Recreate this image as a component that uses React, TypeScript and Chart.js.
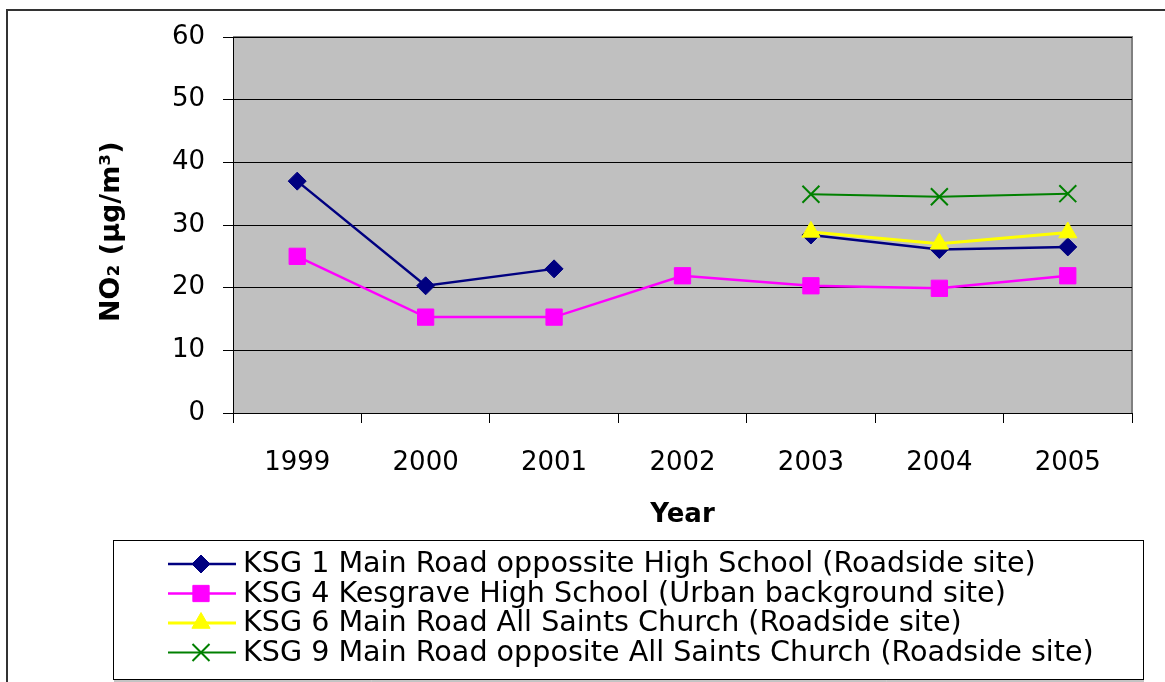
import React, { useEffect, useRef } from 'react';
import { Chart, registerables } from 'chart.js';
import { drawPoint } from 'chart.js/helpers';

Chart.register(...registerables);

const years = ['1999', '2000', '2001', '2002', '2003', '2004', '2005'];
const ksg1 = [37, 20.3, 23, null, 28.4, 26.1, 26.5];
const ksg4 = [25, 15.3, 15.3, 21.9, 20.3, 19.9, 21.9];
const ksg6 = [null, null, null, null, 28.9, 27, 28.8];
const ksg9 = [null, null, null, null, 34.9, 34.5, 35];
const seriesLabels = [
  'KSG 1 Main Road oppossite High School (Roadside site)',
  'KSG 4 Kesgrave High School (Urban background site)',
  'KSG 6 Main Road All Saints Church (Roadside site)',
  'KSG 9 Main Road opposite All Saints Church (Roadside site)',
];
const yMin = 0;
const yMax = 60;
const yStep = 10;

const FONT = "'DejaVu Sans', sans-serif";

const framePlugin = {
  id: 'frame',
  beforeDraw(chart: any) {
    const { ctx, chartArea } = chart;
    ctx.save();
    ctx.fillStyle = '#ffffff';
    ctx.fillRect(0, 0, chart.width, chart.height);
    ctx.strokeStyle = '#333333';
    ctx.lineWidth = 2;
    ctx.beginPath();
    ctx.moveTo(7, chart.height + 5);
    ctx.lineTo(7, 10);
    ctx.lineTo(chart.width + 5, 10);
    ctx.stroke();
    ctx.fillStyle = '#C0C0C0';
    ctx.fillRect(chartArea.left, chartArea.top, chartArea.right - chartArea.left, chartArea.bottom - chartArea.top);
    ctx.strokeStyle = '#808080';
    ctx.lineWidth = 2;
    ctx.beginPath();
    ctx.moveTo(chartArea.left, chartArea.top);
    ctx.lineTo(chartArea.right, chartArea.top);
    ctx.lineTo(chartArea.right, chartArea.bottom);
    ctx.stroke();
    ctx.restore();
  },
};

const legendPlugin = {
  id: 'boxLegend',
  afterDraw(chart: any) {
    const { ctx } = chart;
    ctx.save();
    ctx.strokeStyle = '#000000';
    ctx.lineWidth = 1;
    ctx.strokeRect(113.5, 540.5, 1030, 139);
    ctx.strokeStyle = '#888888';
    ctx.beginPath();
    ctx.moveTo(114, 681);
    ctx.lineTo(1144, 681);
    ctx.stroke();
    chart.data.datasets.forEach((ds: any, i: number) => {
      const y = 564 + i * 29.5;
      ctx.strokeStyle = ds.borderColor;
      ctx.lineWidth = ds.borderWidth;
      ctx.beginPath();
      ctx.moveTo(168, y);
      ctx.lineTo(236, y);
      ctx.stroke();
      ctx.fillStyle = ds.pointBackgroundColor;
      ctx.strokeStyle = ds.pointBorderColor;
      ctx.lineWidth = ds.pointBorderWidth;
      drawPoint(ctx, { pointStyle: ds.pointStyle, radius: ds.pointRadius, rotation: 0, borderWidth: ds.pointBorderWidth }, 201, y);
      ctx.fillStyle = '#000000';
      ctx.font = `28.6px ${FONT}`;
      ctx.textAlign = 'left';
      ctx.textBaseline = 'middle';
      ctx.fillText(ds.label, 243, y + 1);
    });
    ctx.restore();
  },
};

export default function App() {
  const ref = useRef<HTMLCanvasElement>(null);
  useEffect(() => {
    if (!ref.current) return;
    const chart = new Chart(ref.current, {
      type: 'line',
      data: {
        labels: years,
        datasets: [
          {
            label: seriesLabels[0], data: ksg1, order: 3,
            borderColor: '#000080', backgroundColor: '#000080', borderWidth: 2.5,
            pointStyle: 'rectRot', pointRadius: 9, pointBackgroundColor: '#000080', pointBorderColor: '#000080', pointBorderWidth: 1,
          },
          {
            label: seriesLabels[1], data: ksg4, order: 2,
            borderColor: '#FF00FF', backgroundColor: '#FF00FF', borderWidth: 2.5,
            pointStyle: 'rect', pointRadius: 11.5, pointBackgroundColor: '#FF00FF', pointBorderColor: '#FF00FF', pointBorderWidth: 1,
          },
          {
            label: seriesLabels[2], data: ksg6, order: 1,
            borderColor: '#FFFF00', backgroundColor: '#FFFF00', borderWidth: 3,
            pointStyle: 'triangle', pointRadius: 10.5, pointBackgroundColor: '#FFFF00', pointBorderColor: '#FFFF00', pointBorderWidth: 1,
          },
          {
            label: seriesLabels[3], data: ksg9, order: 0,
            borderColor: '#008000', backgroundColor: '#008000', borderWidth: 2,
            pointStyle: 'crossRot', pointRadius: 12, pointBackgroundColor: '#008000', pointBorderColor: '#008000', pointBorderWidth: 2,
          },
        ],
      },
      options: {
        responsive: false,
        animation: false,
        devicePixelRatio: 1,
        layout: { padding: { left: 0, top: 37, right: 33, bottom: 142 } },
        plugins: { legend: { display: false }, tooltip: { enabled: false } },
        elements: { line: { tension: 0 } },
        scales: {
          x: {
            offset: true,
            grid: { offset: true, drawOnChartArea: false, tickLength: 10, color: '#000000', lineWidth: 1 },
            border: { color: '#000000', width: 1 },
            ticks: { color: '#000000', font: { family: FONT, size: 26 }, padding: 25, maxRotation: 0 },
            title: { display: true, text: 'Year', color: '#000000', font: { family: FONT, size: 26, weight: 'bold' }, padding: { top: 0, bottom: 9 } },
            afterFit: (s: any) => { s.height = 127; },
          },
          y: {
            min: yMin, max: yMax,
            grid: { color: '#000000', lineWidth: 1, tickLength: 10 },
            border: { color: '#000000', width: 1 },
            ticks: { stepSize: yStep, color: '#000000', font: { family: FONT, size: 26 }, padding: 18 },
            title: { display: true, text: 'NO₂ (μg/m³)\u2002', color: '#000000', font: { family: FONT, size: 27, weight: 'bold' }, padding: { top: 96, bottom: 0 } },
            afterFit: (s: any) => { s.width = 233; },
          },
        },
      },
      plugins: [framePlugin, legendPlugin],
    } as any);
    return () => chart.destroy();
  }, []);
  return (
    <div style={{ position: 'fixed', left: 0, top: 0, width: 1165, height: 682, background: '#fff' }}>
      <canvas ref={ref} width={1165} height={682} style={{ display: 'block', width: 1165, height: 682 }} />
    </div>
  );
}
